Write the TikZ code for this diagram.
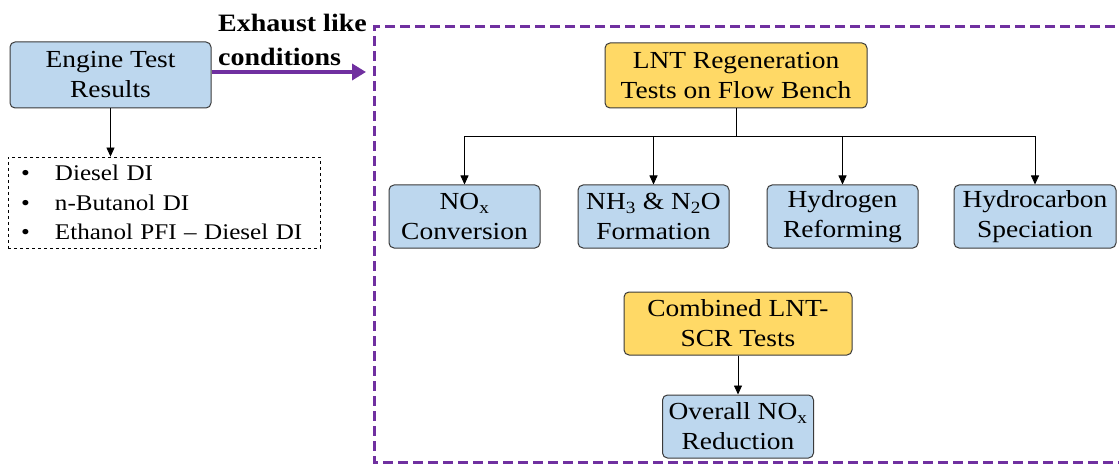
\documentclass[tikz,border=0pt]{standalone}
\usepackage{fontspec}
\setmainfont{Liberation Serif}[FakeStretch=1.12]
\usetikzlibrary{positioning,arrows.meta}

\definecolor{boxblue}{HTML}{BDD7EE}
\definecolor{boxgold}{HTML}{FFD966}
\definecolor{edgegrey}{HTML}{3A3A3A}
\definecolor{flowpurple}{HTML}{7030A0}

\tikzset{
  box/.style={draw=edgegrey, line width=1pt, rounded corners=5pt, align=center,
    inner sep=0pt, minimum height=63pt, font=\fontsize{24.5}{30}\selectfont},
  bluebox/.style={box, fill=boxblue, minimum width=151pt},
  goldbox/.style={box, fill=boxgold},
  link/.style={-{Triangle[length=9pt,width=8pt]}, line width=0.8pt},
}

\begin{document}
\begin{tikzpicture}[x=1pt, y=-1pt]
\useasboundingbox (0,0) rectangle (1119,465);

% engine side
\node (engine) [bluebox, minimum width=201pt, minimum height=66pt] at (110.5,75) {Engine Test\\Results};
\node (fuels) [draw, dashed, line width=0.8pt, inner xsep=13pt, inner ysep=0pt,
  text width=286pt, minimum height=91pt, align=left,
  font=\fontsize{22.4}{29.5}\selectfont] at (164,202.5)
  {\makebox[34pt][l]{\textbullet}Diesel DI\\
   \makebox[34pt][l]{\textbullet}n-Butanol DI\\
   \makebox[34pt][l]{\textbullet}Ethanol PFI -- Diesel DI};
\draw[link] (engine.south) -- (engine.south |- fuels.north);

% flow bench region
\draw[flowpurple, line width=3pt, dash pattern=on 10pt off 5pt]
  (1130,27) -- (374,27) -- (374,462) -- (1130,462);
\coordinate (bench) at (366,72);
\draw[flowpurple, line width=4pt, -{Triangle[length=14pt,width=16pt]}]
  (engine.east |- bench) -- (bench);
\node (cond) [anchor=west, align=left, inner sep=0pt,
  font=\fontsize{25}{34}\selectfont\bfseries] at (218,40) {Exhaust like\\conditions};

% regeneration tests
\node (lnt) [goldbox, minimum width=262pt, minimum height=65pt] at (736,75.5) {LNT Regeneration\\Tests on Flow Bench};
\node (nox) [bluebox] at (464.5,216.5) {NO\textsubscript{x}\\Conversion};
\node (nhx) [bluebox, right=37pt of nox] {NH\textsubscript{3} \& N\textsubscript{2}O\\Formation};
\node (hyd) [bluebox, right=37pt of nhx] {Hydrogen\\Reforming};
\node (hc) [bluebox, minimum width=162pt, right=35pt of hyd] {Hydrocarbon\\Speciation};

\draw (lnt.south) -- ++(0,28) coordinate (bus);
\draw (bus -| nox) -- (bus -| hc);
\foreach \n in {nox,nhx,hyd,hc}
  \draw[link] (bus -| \n) -- (\n.north);

% combined tests
\node (combo) [goldbox, minimum width=228pt] at (738,323.5) {Combined LNT-\\SCR Tests};
\node (overall) [bluebox, below=39pt of combo] {Overall NO\textsubscript{x}\\Reduction};
\draw[link] (combo) -- (overall);
\end{tikzpicture}
\end{document}
